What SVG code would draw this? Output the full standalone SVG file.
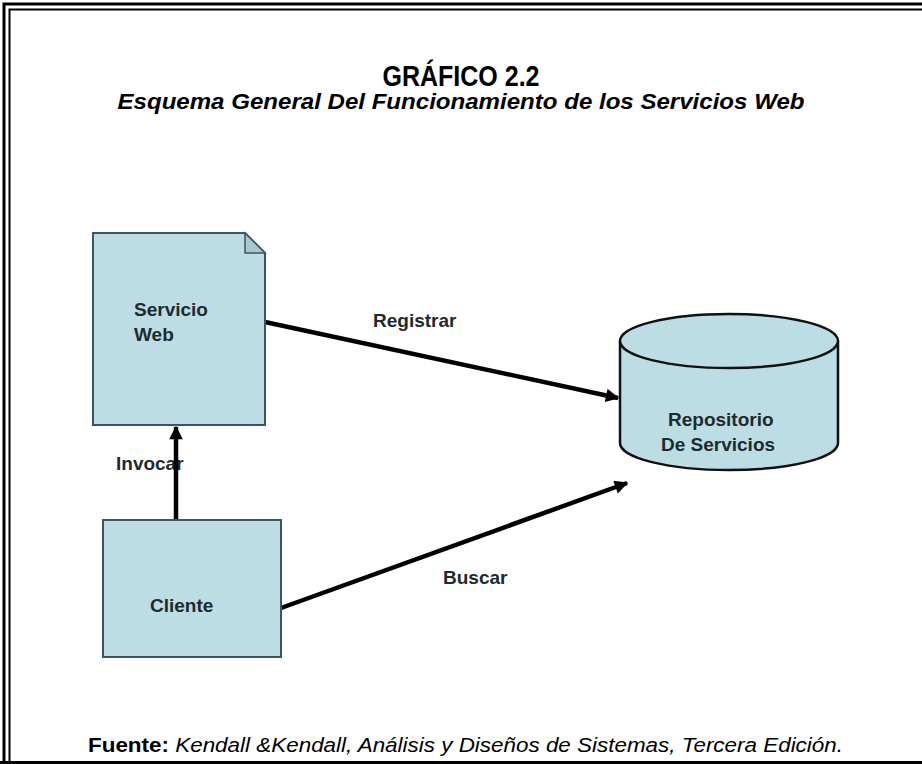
<svg xmlns="http://www.w3.org/2000/svg" width="922" height="764" viewBox="0 0 922 764">
<defs>
<style>
.frame{fill:none;stroke:#000}
.node{fill:#bcdde3;stroke:#3d5560;stroke-width:2}
.cyl{fill:#bcdde3;stroke:#111;stroke-width:2.5}
.lbl{font-family:"Liberation Sans",Arial,sans-serif;font-weight:bold;font-size:19px;fill:#1d2b30}
.conn{stroke:#000;stroke-width:4.5;fill:none}
.title{font-family:"Liberation Sans",Arial,sans-serif;font-weight:bold;fill:#000}
</style>
<marker id="arr" viewBox="0 0 10 10" refX="9" refY="5" markerWidth="3.2" markerHeight="3" markerUnits="strokeWidth" orient="auto">
<path d="M0,0 L10,5 L0,10 z" fill="#000"/>
</marker>
</defs>
<rect width="922" height="764" fill="#fff"/>
<g id="frame">
<path class="frame" stroke-width="3" d="M4,764 V4 H922"/>
<path class="frame" stroke-width="2" d="M9.5,764 V9.5 H922"/>
<path class="frame" stroke-width="3" d="M0,762.5 H922"/>
</g>
<g id="title">
<text class="title" x="461" y="86" font-size="29" text-anchor="middle" textLength="157" lengthAdjust="spacingAndGlyphs">GRÁFICO 2.2</text>
<text class="title" x="461" y="109" font-size="22" font-style="italic" text-anchor="middle" textLength="687" lengthAdjust="spacingAndGlyphs">Esquema General Del Funcionamiento de los Servicios Web</text>
</g>
<g id="labels">
<text class="lbl" x="373" y="327">Registrar</text>
<text class="lbl" x="116" y="470">Invocar</text>
<text class="lbl" x="443" y="584">Buscar</text>
</g>
<g id="connectors">
<line class="conn" x1="265" y1="322" x2="618" y2="398" marker-end="url(#arr)"/>
<line class="conn" x1="176" y1="520" x2="176" y2="427" marker-end="url(#arr)"/>
<line class="conn" x1="281" y1="608" x2="627" y2="483" marker-end="url(#arr)"/>
</g>
<g id="servicio-web">
<path class="node" d="M93,233 H245 L265,253 V425 H93 Z"/>
<path d="M245,233 V253 H265 Z" fill="#a9c7cd" stroke="#3d5560" stroke-width="1.5"/>
<text class="lbl" x="134" y="316">Servicio</text>
<text class="lbl" x="134" y="341">Web</text>
</g>
<g id="repositorio">
<path class="cyl" d="M620,341 V443 A109,27 0 0 0 838,443 V341"/>
<ellipse class="cyl" cx="729" cy="341" rx="109" ry="27"/>
<text class="lbl" x="668" y="426">Repositorio</text>
<text class="lbl" x="661" y="451">De Servicios</text>
</g>
<g id="cliente">
<rect class="node" x="103" y="520" width="178" height="137"/>
<text class="lbl" x="150" y="612">Cliente</text>
</g>
<g id="source">
<text class="title" x="88" y="752" font-size="20" textLength="755" lengthAdjust="spacingAndGlyphs"><tspan>Fuente:</tspan><tspan font-weight="normal" font-style="italic"> Kendall &amp;Kendall, Análisis y Diseños de Sistemas, Tercera Edición.</tspan></text>
</g>
</svg>
